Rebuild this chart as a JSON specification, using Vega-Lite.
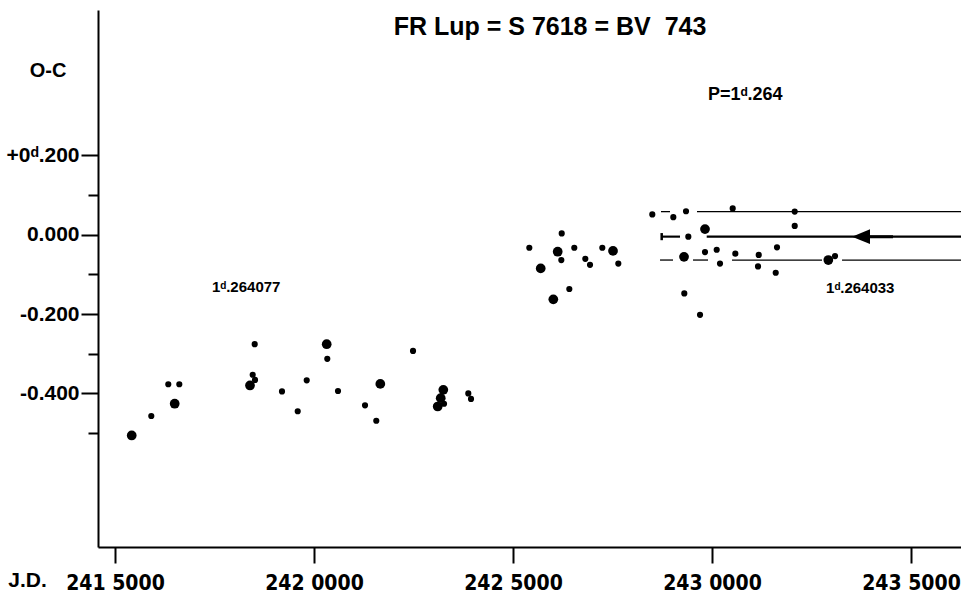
{
  "$schema": "https://vega.github.io/schema/vega-lite/v6.json",
  "autosize": "none",
  "padding": {"left": 98, "top": 10, "right": 0, "bottom": 47},
  "width": 863,
  "height": 537,
  "background": "white",
  "config": {"view": {"stroke": null}, "text": {"font": "Liberation Sans", "color": "black", "fontWeight": "bold"}},
  "datasets": {
    "points": [
      {"jd": 2415420, "oc": -0.506, "kind": "large"},
      {"jd": 2415912, "oc": -0.457, "kind": "small"},
      {"jd": 2416339, "oc": -0.377, "kind": "small"},
      {"jd": 2416616, "oc": -0.377, "kind": "small"},
      {"jd": 2416500, "oc": -0.426, "kind": "large"},
      {"jd": 2418510, "oc": -0.276, "kind": "small"},
      {"jd": 2418460, "oc": -0.353, "kind": "small"},
      {"jd": 2418518, "oc": -0.366, "kind": "small"},
      {"jd": 2418392, "oc": -0.380, "kind": "large"},
      {"jd": 2419196, "oc": -0.395, "kind": "small"},
      {"jd": 2419591, "oc": -0.445, "kind": "small"},
      {"jd": 2419817, "oc": -0.367, "kind": "small"},
      {"jd": 2420319, "oc": -0.276, "kind": "large"},
      {"jd": 2420334, "oc": -0.313, "kind": "small"},
      {"jd": 2420603, "oc": -0.394, "kind": "small"},
      {"jd": 2421666, "oc": -0.376, "kind": "large"},
      {"jd": 2421282, "oc": -0.430, "kind": "small"},
      {"jd": 2421565, "oc": -0.469, "kind": "small"},
      {"jd": 2422488, "oc": -0.293, "kind": "small"},
      {"jd": 2423249, "oc": -0.391, "kind": "large"},
      {"jd": 2423184, "oc": -0.412, "kind": "large"},
      {"jd": 2423108, "oc": -0.433, "kind": "large"},
      {"jd": 2423267, "oc": -0.426, "kind": "small"},
      {"jd": 2423877, "oc": -0.400, "kind": "small"},
      {"jd": 2423945, "oc": -0.414, "kind": "small"},
      {"jd": 2426224, "oc": 0.003, "kind": "small"},
      {"jd": 2425410, "oc": -0.033, "kind": "small"},
      {"jd": 2426123, "oc": -0.043, "kind": "large"},
      {"jd": 2426214, "oc": -0.064, "kind": "small"},
      {"jd": 2426540, "oc": -0.033, "kind": "small"},
      {"jd": 2426817, "oc": -0.061, "kind": "small"},
      {"jd": 2426935, "oc": -0.076, "kind": "small"},
      {"jd": 2427244, "oc": -0.033, "kind": "small"},
      {"jd": 2427513, "oc": -0.041, "kind": "large"},
      {"jd": 2427646, "oc": -0.073, "kind": "small"},
      {"jd": 2425696, "oc": -0.085, "kind": "large"},
      {"jd": 2426415, "oc": -0.137, "kind": "small"},
      {"jd": 2426013, "oc": -0.163, "kind": "large"},
      {"jd": 2428500, "oc": 0.051, "kind": "small"},
      {"jd": 2429028, "oc": 0.044, "kind": "small"},
      {"jd": 2429347, "oc": 0.059, "kind": "small"},
      {"jd": 2430520, "oc": 0.066, "kind": "small"},
      {"jd": 2432078, "oc": 0.058, "kind": "small"},
      {"jd": 2432078, "oc": 0.022, "kind": "small"},
      {"jd": 2429824, "oc": 0.014, "kind": "large"},
      {"jd": 2429405, "oc": -0.005, "kind": "small"},
      {"jd": 2429297, "oc": -0.056, "kind": "large"},
      {"jd": 2429824, "oc": -0.044, "kind": "small"},
      {"jd": 2430118, "oc": -0.038, "kind": "small"},
      {"jd": 2430201, "oc": -0.073, "kind": "small"},
      {"jd": 2430586, "oc": -0.048, "kind": "small"},
      {"jd": 2431174, "oc": -0.051, "kind": "small"},
      {"jd": 2431156, "oc": -0.080, "kind": "small"},
      {"jd": 2431633, "oc": -0.032, "kind": "small"},
      {"jd": 2431601, "oc": -0.096, "kind": "small"},
      {"jd": 2429304, "oc": -0.148, "kind": "small"},
      {"jd": 2429699, "oc": -0.202, "kind": "small"},
      {"jd": 2432923, "oc": -0.064, "kind": "large"},
      {"jd": 2433091, "oc": -0.054, "kind": "small"}
    ],
    "segments": [
      {"jd": 2428719, "jd2": 2428945, "oc": 0.058, "weight": "thin"},
      {"jd": 2429623, "jd2": 2436256, "oc": 0.058, "weight": "thin"},
      {"jd": 2428736, "jd2": 2429196, "oc": -0.005, "weight": "main"},
      {"jd": 2429867, "jd2": 2436256, "oc": -0.005, "weight": "main"},
      {"jd": 2433744, "jd2": 2434548, "oc": -0.005, "weight": "shaft"},
      {"jd": 2428694, "jd2": 2429020, "oc": -0.064, "weight": "thin"},
      {"jd": 2429523, "jd2": 2429900, "oc": -0.064, "weight": "thin"},
      {"jd": 2430503, "jd2": 2432764, "oc": -0.064, "weight": "thin"},
      {"jd": 2433267, "jd2": 2436256, "oc": -0.064, "weight": "thin"}
    ],
    "caps": [
      {"jd": 2428736, "oc": -0.014, "oc2": 0.004}
    ],
    "arrow": [
      {"jd": 2433744, "oc": -0.005}
    ],
    "labels": [
      {"id": "title", "jd": 2425930, "oc": 0.503, "label": "FR Lup = S 7618 = BV\u00a0\u00a0743"},
      {"id": "period", "jd": 2429900, "oc": 0.339, "label": "P=1ᵈ.264"},
      {"id": "early", "jd": 2417437, "oc": -0.144, "label": "1ᵈ.264077"},
      {"id": "late", "jd": 2432865, "oc": -0.147, "label": "1ᵈ.264033"},
      {"id": "ytitle", "jd": 2413317, "oc": 0.397, "label": "O-C"},
      {"id": "xtitle", "jd": 2412801, "oc": -0.887, "label": "J.D."}
    ]
  },
  "encoding": {
    "x": {
      "field": "jd",
      "type": "quantitative",
      "scale": {"domain": [2414573, 2436256], "nice": false, "zero": false},
      "axis": {
        "orient": "bottom",
        "title": null,
        "grid": false,
        "values": [2415000, 2420000, 2425000, 2430000, 2435000],
        "labelExpr": "datum.value == 2415000 ? '241 5000' : datum.value == 2420000 ? '242 0000' : datum.value == 2425000 ? '242 5000' : datum.value == 2430000 ? '243 0000' : '243 5000'",
        "domainColor": "black",
        "domainWidth": 2,
        "tickColor": "black",
        "tickWidth": 2,
        "tickSize": 16,
        "labelFont": "DejaVu Sans Condensed, Liberation Sans",
        "labelFontWeight": "bold",
        "labelFontSize": 21,
        "labelColor": "black",
        "labelPadding": 9,
        "labelFlush": false,
        "labelOverlap": false
      }
    },
    "y": {
      "field": "oc",
      "type": "quantitative",
      "scale": {"domain": [-0.787, 0.566], "nice": false, "zero": false},
      "axis": {
        "title": null,
        "grid": false,
        "values": [0.2, 0.1, 0, -0.1, -0.2, -0.3, -0.4, -0.5],
        "labelExpr": "datum.value == 0.2 ? '+0ᵈ.200' : datum.value == 0 ? '0.000' : datum.value == -0.2 ? '-0.200' : datum.value == -0.4 ? '-0.400' : ''",
        "domainColor": "black",
        "domainWidth": 2,
        "tickColor": "black",
        "tickWidth": 2,
        "tickSize": {"condition": {"test": "abs(round(datum.value * 10)) % 2 == 0", "value": 17}, "value": 10},
        "labelFont": "Liberation Sans",
        "labelFontWeight": "bold",
        "labelFontSize": 21,
        "labelColor": "black",
        "labelPadding": 2,
        "labelFlush": false,
        "labelOverlap": false
      }
    }
  },
  "layer": [
    {
      "data": {"name": "segments"},
      "mark": {"type": "rule", "color": "black"},
      "encoding": {
        "x2": {"field": "jd2"},
        "strokeWidth": {"field": "weight", "type": "ordinal", "scale": {"domain": ["thin", "main", "shaft"], "range": [1.3, 3, 6]}, "legend": null}
      }
    },
    {
      "data": {"name": "caps"},
      "mark": {"type": "rule", "color": "black", "strokeWidth": 2.5},
      "encoding": {"y2": {"field": "oc2"}}
    },
    {
      "data": {"name": "arrow"},
      "mark": {"type": "point", "shape": "M -1 0 L 1 -0.83 L 1 0.83 Z", "filled": true, "color": "black", "opacity": 1, "size": 324},
      "encoding": {}
    },
    {
      "data": {"name": "points"},
      "mark": {"type": "circle", "color": "black", "opacity": 1},
      "encoding": {
        "size": {"field": "kind", "type": "ordinal", "scale": {"domain": ["large", "small"], "range": [95, 38]}, "legend": null}
      }
    },
    {
      "data": {"name": "labels"},
      "transform": [{"filter": "datum.id == 'title'"}],
      "mark": {"type": "text", "align": "center", "baseline": "alphabetic", "fontSize": 25},
      "encoding": {"text": {"field": "label"}}
    },
    {
      "data": {"name": "labels"},
      "transform": [{"filter": "datum.id == 'period'"}],
      "mark": {"type": "text", "align": "left", "baseline": "alphabetic", "fontSize": 18},
      "encoding": {"text": {"field": "label"}}
    },
    {
      "data": {"name": "labels"},
      "transform": [{"filter": "datum.id == 'early' || datum.id == 'late'"}],
      "mark": {"type": "text", "align": "left", "baseline": "alphabetic", "fontSize": 15},
      "encoding": {"text": {"field": "label"}}
    },
    {
      "data": {"name": "labels"},
      "transform": [{"filter": "datum.id == 'ytitle'"}],
      "mark": {"type": "text", "align": "center", "baseline": "alphabetic", "fontSize": 20, "letterSpacing": 2},
      "encoding": {"text": {"field": "label"}}
    },
    {
      "data": {"name": "labels"},
      "transform": [{"filter": "datum.id == 'xtitle'"}],
      "mark": {"type": "text", "align": "center", "baseline": "alphabetic", "fontSize": 21},
      "encoding": {"text": {"field": "label"}}
    }
  ]
}
